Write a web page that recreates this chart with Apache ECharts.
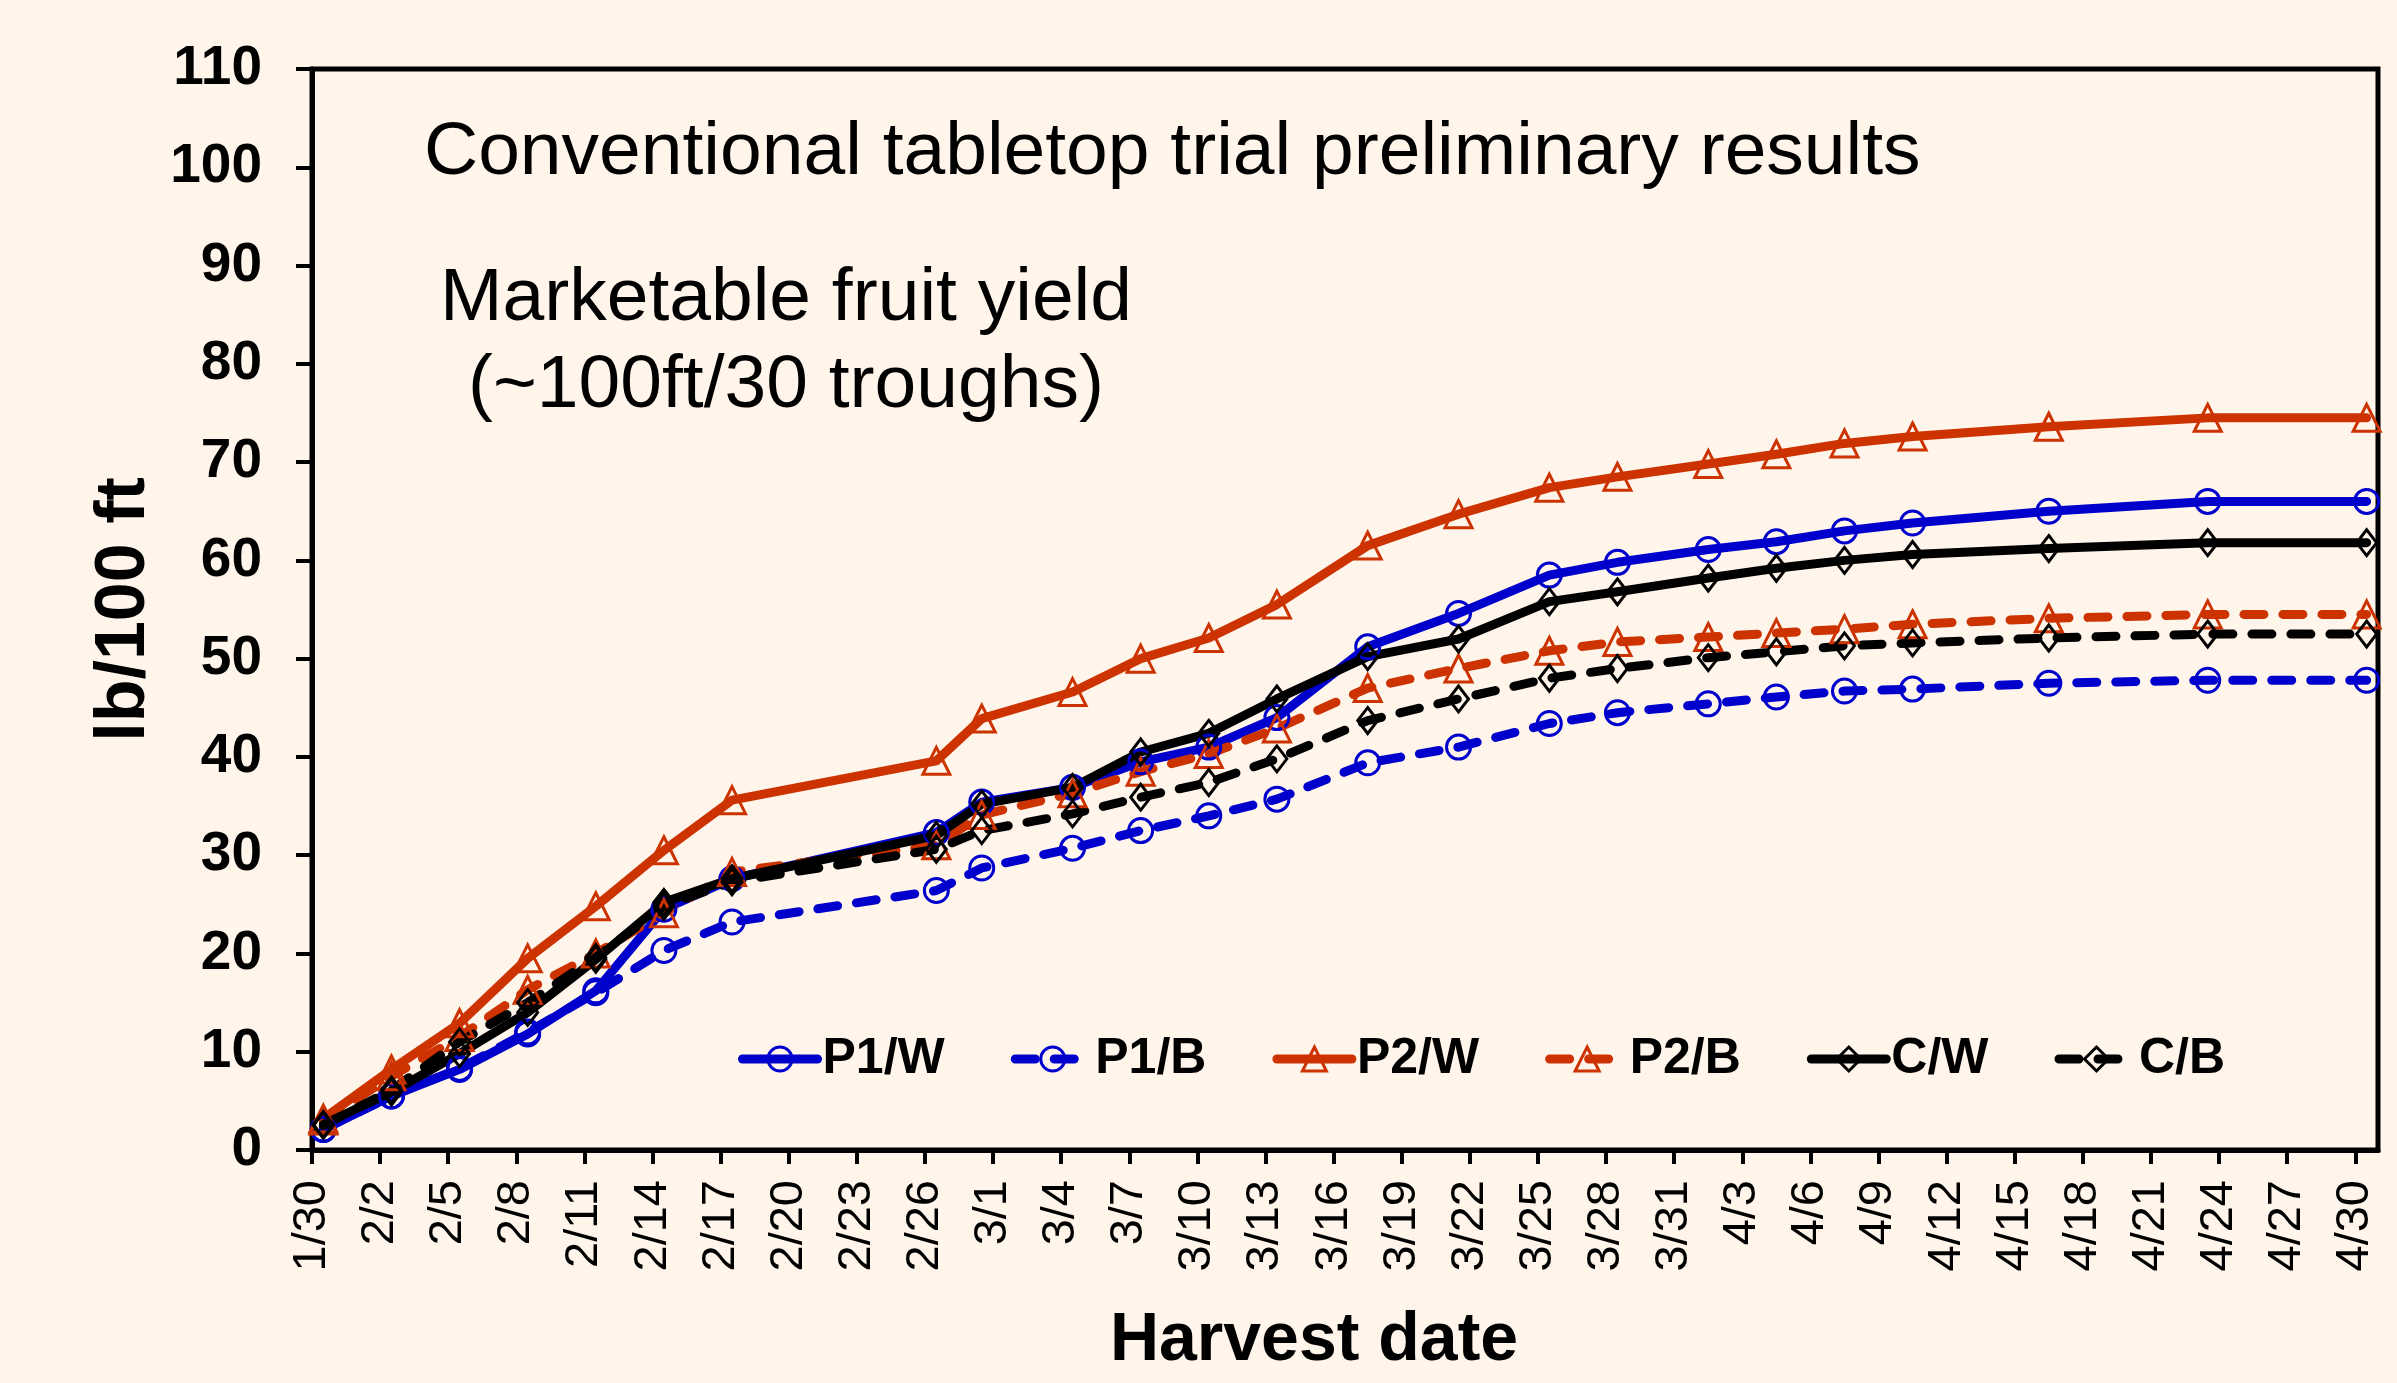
<!DOCTYPE html>
<html>
<head>
<meta charset="utf-8">
<script src="https://cdn.jsdelivr.net/npm/echarts@6/dist/echarts.min.js"></script>
<style>
    html, body { margin: 0; padding: 0; background: #FFF5EB; }
    #yieldChart { width: 2397px; height: 1383px; }
</style>
</head>
<body>
<div id="yieldChart"></div>
<script>
// harvest dates (M/D) and x axis tick labels
var harvestDates = ['1/30', '2/2', '2/5', '2/8', '2/11', '2/14', '2/17', '2/26', '2/28', '3/4', '3/7', '3/10',
    '3/13', '3/17', '3/21', '3/25', '3/28', '4/1', '4/4', '4/7', '4/10', '4/16', '4/23', '4/30']
var tickLabels = ['1/30', '2/2', '2/5', '2/8', '2/11', '2/14', '2/17', '2/20', '2/23', '2/26', '3/1', '3/4',
    '3/7', '3/10', '3/13', '3/16', '3/19', '3/22', '3/25', '3/28', '3/31', '4/3', '4/6', '4/9', '4/12',
    '4/15', '4/18', '4/21', '4/24', '4/27', '4/30']
var yTicks = [0, 10, 20, 30, 40, 50, 60, 70, 80, 90, 100, 110]

// cumulative yield, lb/100 ft
var p1w = [2.1, 5.5, 8.2, 11.8, 16.2, 24.5, 27.6, 32.3, 35.4, 36.9, 39.5, 41.0, 44.0, 51.2, 54.6, 58.5, 59.8, 61.1, 61.9, 63.0, 63.8, 65.0, 66.0, 66.0]
var p1b = [2.1, 5.5, 8.3, 12.0, 16.0, 20.3, 23.2, 26.4, 28.7, 30.7, 32.5, 34.0, 35.7, 39.4, 41.0, 43.4, 44.5, 45.4, 46.1, 46.7, 46.9, 47.5, 47.8, 47.8]
var p2w = [3.2, 8.2, 12.9, 19.5, 24.8, 30.5, 35.6, 39.6, 43.9, 46.6, 50.0, 52.1, 55.5, 61.5, 64.7, 67.4, 68.5, 69.8, 70.8, 71.9, 72.6, 73.6, 74.5, 74.5]
var p2b = [3.0, 7.5, 11.5, 16.3, 20.0, 24.1, 28.3, 31.0, 34.1, 36.3, 38.5, 40.3, 42.9, 47.0, 49.0, 50.8, 51.7, 52.2, 52.6, 53.0, 53.5, 54.1, 54.5, 54.5]
var cw = [2.6, 5.9, 9.8, 14.0, 19.4, 25.2, 27.6, 32.0, 35.2, 36.9, 40.5, 42.4, 45.9, 50.2, 52.0, 55.8, 56.8, 58.2, 59.2, 60.0, 60.6, 61.2, 61.8, 61.8]
var cb = [2.5, 6.1, 11.0, 15.0, 19.6, 24.8, 27.3, 30.6, 32.5, 34.2, 35.9, 37.4, 39.8, 43.7, 45.9, 48.0, 49.0, 50.1, 50.7, 51.3, 51.6, 52.1, 52.5, 52.5]

var blue = '#0000CC'
var red = '#CC3300'
var black = '#000000'
var font = 'Liberation Sans, Arial, sans-serif'

// days since 1/30 (non leap year)
function dayOf(md) {
    var p = md.split('/')
    return (Date.UTC(2023, +p[0] - 1, +p[1]) - Date.UTC(2023, 0, 30)) / 86400000
}
var tickDays = tickLabels.map(dayOf)

function makeSeries(name, values, color, symbol, size, dashed) {
    return {
        name: name,
        type: 'line',
        // date axis "between tick marks": each point sits in the middle of its day
        data: values.map(function (v, i) { return [dayOf(harvestDates[i]) + 0.5, v] }),
        symbol: symbol,
        symbolSize: size,
        showAllSymbol: true,
        lineStyle: {
            color: color,
            width: 9,
            type: dashed ? [20, 19] : 'solid',
            cap: 'round',
            join: 'round'
        },
        itemStyle: {
            color: 'transparent',
            borderColor: color,
            borderWidth: 3
        },
        emphasis: { disabled: true },
        animation: false
    }
}

var myChart = echarts.init(document.getElementById('yieldChart'))
var option = {
    backgroundColor: '#FFF5EB',
    textStyle: { fontFamily: font },
    grid: {
        left: 312,
        right: 19,
        top: 69,
        bottom: 233,
        show: true,
        borderColor: black,
        borderWidth: 5,
        containLabel: false,
        outerBoundsMode: 'none'
    },
    legend: {
        left: 733,
        top: 1029,
        itemWidth: 75,
        itemHeight: 30,
        itemGap: 66,
        lineStyle: { width: 'inherit' },
        itemStyle: { borderWidth: 3 },
        textStyle: { color: black, fontSize: 50, fontWeight: 'bold', fontFamily: font },
        data: ['P1/W', 'P1/B', 'P2/W', 'P2/B', 'C/W', 'C/B']
    },
    graphic: [{
        type: 'text',
        x: 424,
        y: 153,
        style: {
            text: 'Conventional tabletop trial preliminary results',
            font: '75px ' + font,
            fill: black,
            align: 'left', textAlign: 'left',
            verticalAlign: 'middle', textVerticalAlign: 'middle'
        }
    }, {
        type: 'text',
        x: 786,
        y: 299,
        style: {
            text: 'Marketable fruit yield',
            font: '75px ' + font,
            fill: black,
            align: 'center', textAlign: 'center',
            verticalAlign: 'middle', textVerticalAlign: 'middle'
        }
    }, {
        type: 'text',
        x: 786,
        y: 386,
        style: {
            text: '(~100ft/30 troughs)',
            font: '75px ' + font,
            fill: black,
            align: 'center', textAlign: 'center',
            verticalAlign: 'middle', textVerticalAlign: 'middle'
        }
    }],
    xAxis: {
        type: 'value',
        min: 0,
        max: 91,
        name: 'Harvest date',
        nameLocation: 'middle',
        nameGap: 157,
        nameTextStyle: { color: black, fontSize: 68, fontWeight: 'bold', fontFamily: font, padding: [0, 62, 0, 0] },
        axisLine: { show: true, onZero: false, lineStyle: { color: black, width: 5 } },
        axisTick: { show: true, length: 14, customValues: tickDays, lineStyle: { color: black, width: 4 } },
        axisLabel: {
            customValues: tickDays,
            rotate: 90,
            margin: 30,
            color: black,
            fontSize: 47,
            fontFamily: font,
            formatter: function (v) {
                var i = tickDays.indexOf(Math.round(v))
                return i >= 0 ? tickLabels[i] : ''
            }
        },
        splitLine: { show: false }
    },
    yAxis: {
        type: 'value',
        min: yTicks[0],
        max: yTicks[yTicks.length - 1],
        interval: 10,
        name: 'lb/100 ft',
        nameLocation: 'middle',
        nameGap: 152,
        nameTextStyle: { color: black, fontSize: 70, fontWeight: 'bold', fontFamily: font },
        axisLine: { show: true, onZero: false, lineStyle: { color: black, width: 5 } },
        axisTick: { show: true, length: 16, lineStyle: { color: black, width: 4 } },
        axisLabel: { margin: 50, color: black, fontSize: 55, fontWeight: 'bold', fontFamily: font },
        splitLine: { show: false }
    },
    series: [
        makeSeries('P1/W', p1w, blue, 'circle', 24, false),
        makeSeries('P1/B', p1b, blue, 'circle', 24, true),
        makeSeries('P2/W', p2w, red, 'triangle', 27, false),
        makeSeries('P2/B', p2b, red, 'triangle', 27, true),
        makeSeries('C/W', cw, black, 'diamond', [20, 26], false),
        makeSeries('C/B', cb, black, 'diamond', [20, 26], true)
    ]
}
myChart.setOption(option)

window.addEventListener('resize', function () {
    myChart.resize()
})
</script>
</body>
</html>
